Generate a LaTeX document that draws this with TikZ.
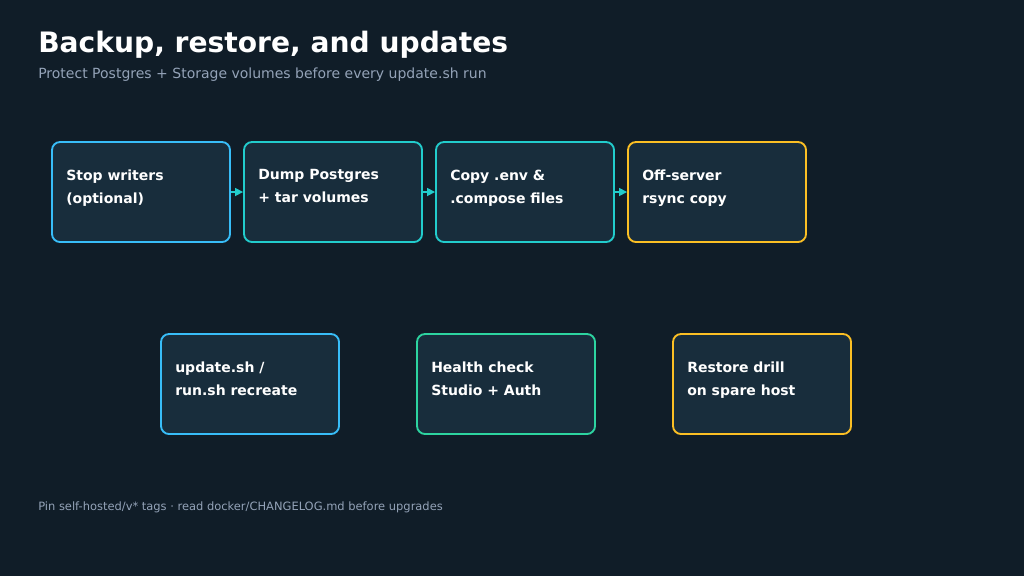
\documentclass[tikz,border=0pt]{standalone}
\usepackage{fontspec}
\setmainfont{DejaVu Sans}
\usetikzlibrary{arrows.meta}
\definecolor{bg}{HTML}{101D28}
\definecolor{boxf}{HTML}{182D3C}
\definecolor{cblue}{HTML}{38BDF8}
\definecolor{cteal}{HTML}{22CCCC}
\definecolor{cyel}{HTML}{FBBF24}
\definecolor{cgreen}{HTML}{2DD4A0}
\definecolor{subt}{HTML}{94A3B8}
\begin{document}
\begin{tikzpicture}[x=0.75pt,y=-0.75pt,
 box/.style={draw=#1,line width=1.4pt,fill=boxf,rounded corners=6pt,minimum width=133.5pt,minimum height=75pt,inner sep=0pt},
 lbl/.style={anchor=north west,text=white,font=\bfseries\fontsize{10.5}{17.25}\selectfont,align=left,inner sep=0pt},
 arr/.style={draw=cteal,line width=1.2pt,-{Triangle[length=6pt,width=6pt]}}]
\fill[bg] (0,0) rectangle (1024,576);
\useasboundingbox (0,0) rectangle (1024,576);
\node[anchor=base west,inner sep=0pt,text=white,font=\bfseries\fontsize{21.1}{24}\selectfont] (title) at (38,52) {Backup, restore, and updates};
\node[anchor=base west,inner sep=0pt,text=subt,font=\fontsize{10.5}{12}\selectfont] (sub) at (38,78) {Protect Postgres + Storage volumes before every update.sh run};
\node[box=cblue] (b1) at (141,192) {};
\node[box=cteal] (b2) at (333,192) {};
\node[box=cteal] (b3) at (525,192) {};
\node[box=cyel] (b4) at (717,192) {};
\node[box=cblue] (b5) at (250,384) {};
\node[box=cgreen] (b6) at (506,384) {};
\node[box=cyel] (b7) at (762,384) {};
\node[lbl] (t1) at (66,169.5) {Stop writers\\(optional)};
\node[lbl] (t2) at (258,169.5) {Dump Postgres\\+ tar volumes};
\node[lbl] (t3) at (450,169.5) {Copy .env \&\\.compose files};
\node[lbl] (t4) at (642,169.5) {Off-server\\rsync copy};
\node[lbl] (t5) at (175,361.5) {update.sh /\\run.sh recreate};
\node[lbl] (t6) at (431,361.5) {Health check\\Studio + Auth};
\node[lbl] (t7) at (687,361.5) {Restore drill\\on spare host};
\draw[arr] (b1.east) -- (b2.west);
\draw[arr] (b2.east) -- (b3.west);
\draw[arr] (b3.east) -- (b4.west);
\node[anchor=base west,inner sep=0pt,text=subt,font=\fontsize{8.6}{10}\selectfont] (foot) at (38,510) {Pin self-hosted/v* tags · read docker/CHANGELOG.md before upgrades};
\end{tikzpicture}
\end{document}
